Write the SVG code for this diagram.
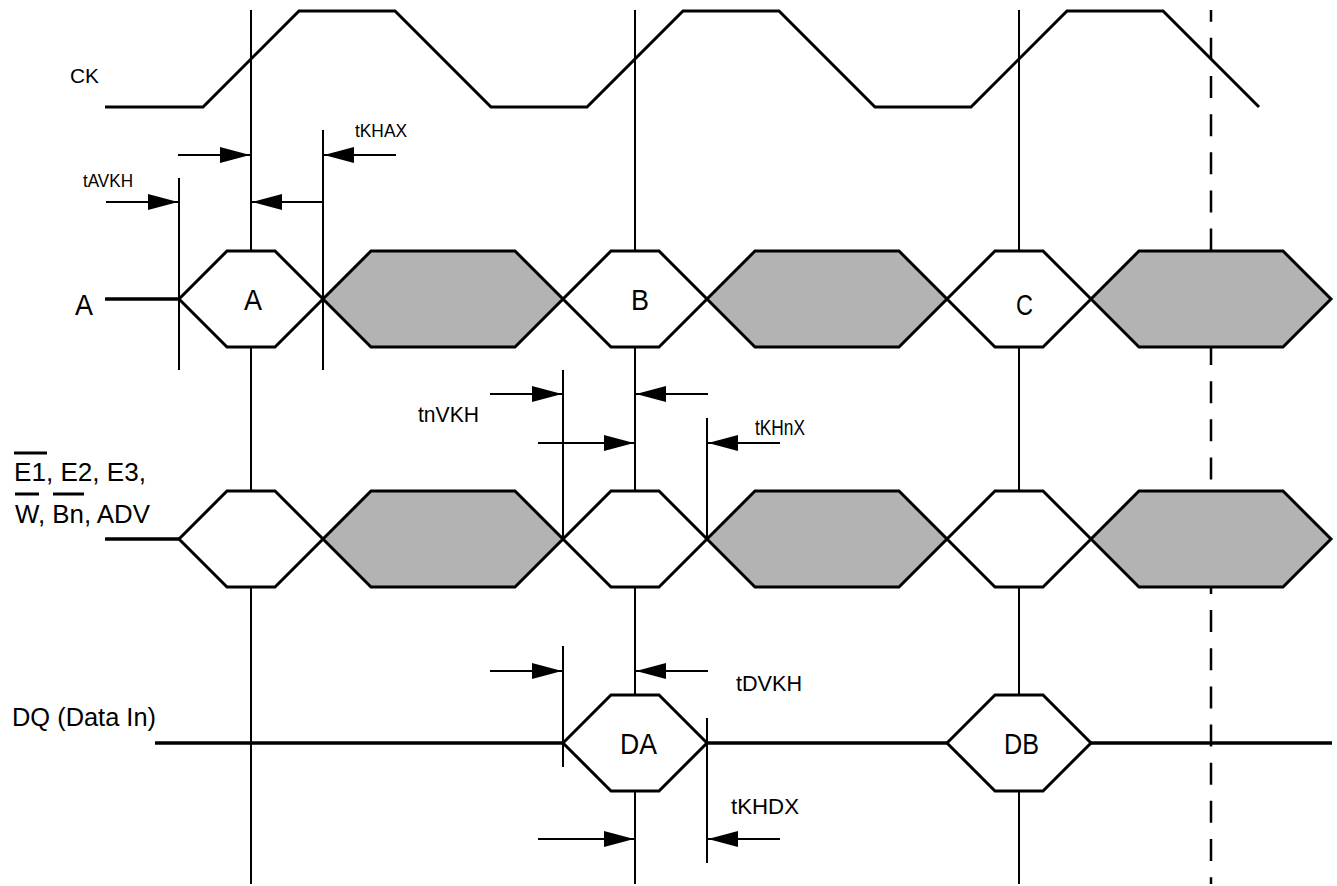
<svg xmlns="http://www.w3.org/2000/svg" width="1337" height="886" viewBox="0 0 1337 886">
<style>
  .bg{fill:#ffffff}
  .sig{fill:none;stroke:#000;stroke-width:3;stroke-linejoin:miter}
  .lead{fill:none;stroke:#000;stroke-width:3.5}
  .vl{fill:none;stroke:#000;stroke-width:2}
  .dash{fill:none;stroke:#000;stroke-width:2.5;stroke-dasharray:22 16.15;stroke-dashoffset:10.3}
  .hw{fill:#ffffff;stroke:#000;stroke-width:3;stroke-linejoin:miter}
  .hg{fill:#b3b3b3;stroke:#000;stroke-width:3;stroke-linejoin:miter}
  .arr{fill:none;stroke:#000;stroke-width:2;marker-end:url(#ah)}
  .ov{stroke:#000;stroke-width:3}
  .t{font-family:"Liberation Sans",Arial,sans-serif;fill:#000}
</style>
<defs>
  <marker id="ah" markerUnits="userSpaceOnUse" markerWidth="30" markerHeight="16" refX="30" refY="8" orient="auto">
    <path d="M0,0 L30,8 L0,16 Z" fill="#000"/>
  </marker>
</defs>
<rect class="bg" x="0" y="0" width="1337" height="886"/>

<g id="gridlines">
  <line class="vl" x1="251" y1="10" x2="251" y2="884"/>
  <line class="vl" x1="635" y1="10" x2="635" y2="884"/>
  <line class="vl" x1="1019" y1="10" x2="1019" y2="884"/>
  <line class="dash" x1="1211" y1="10" x2="1211" y2="884"/>
  <line class="vl" x1="179" y1="178" x2="179" y2="370"/>
  <line class="vl" x1="323" y1="130" x2="323" y2="370"/>
  <line class="vl" x1="563" y1="370" x2="563" y2="539"/>
  <line class="vl" x1="707" y1="418" x2="707" y2="539"/>
  <line class="vl" x1="563" y1="646" x2="563" y2="767"/>
  <line class="vl" x1="707" y1="718" x2="707" y2="863"/>
</g>

<g id="ck">
  <path class="sig" d="M105,107 L203,107 L299,11 L395,11 L491,107 L587,107 L683,11 L779,11 L875,107 L971,107 L1067,11 L1163,11 L1259,107"/>
  <text class="t" x="70" y="83" font-size="21" textLength="29" lengthAdjust="spacingAndGlyphs">CK</text>
</g>

<g id="addr">
  <line class="lead" x1="105" y1="299" x2="179" y2="299"/>
  <polygon class="hw" points="179,299 227,251 275,251 323,299 275,347 227,347"/>
  <polygon class="hg" points="323,299 371,251 515,251 563,299 515,347 371,347"/>
  <polygon class="hw" points="563,299 611,251 659,251 707,299 659,347 611,347"/>
  <polygon class="hg" points="707,299 755,251 899,251 947,299 899,347 755,347"/>
  <polygon class="hw" points="947,299 995,251 1043,251 1091,299 1043,347 995,347"/>
  <polygon class="hg" points="1091,299 1139,251 1283,251 1331,299 1283,347 1139,347"/>
  <text class="t" x="75" y="315" font-size="30" textLength="18" lengthAdjust="spacingAndGlyphs">A</text>
  <text class="t" x="244" y="310" font-size="30" textLength="18" lengthAdjust="spacingAndGlyphs">A</text>
  <text class="t" x="631" y="310" font-size="30" textLength="18" lengthAdjust="spacingAndGlyphs">B</text>
  <text class="t" x="1016" y="315" font-size="30" textLength="17" lengthAdjust="spacingAndGlyphs">C</text>
</g>

<g id="ctrl">
  <line class="lead" x1="105" y1="539" x2="179" y2="539"/>
  <polygon class="hw" points="179,539 227,491 275,491 323,539 275,587 227,587"/>
  <polygon class="hg" points="323,539 371,491 515,491 563,539 515,587 371,587"/>
  <polygon class="hw" points="563,539 611,491 659,491 707,539 659,587 611,587"/>
  <polygon class="hg" points="707,539 755,491 899,491 947,539 899,587 755,587"/>
  <polygon class="hw" points="947,539 995,491 1043,491 1091,539 1043,587 995,587"/>
  <polygon class="hg" points="1091,539 1139,491 1283,491 1331,539 1283,587 1139,587"/>
  <text class="t" x="14" y="481" font-size="26" textLength="132" lengthAdjust="spacingAndGlyphs">E1, E2, E3,</text>
  <text class="t" x="15" y="523" font-size="26" textLength="135" lengthAdjust="spacingAndGlyphs">W, Bn, ADV</text>
  <line class="ov" x1="14" y1="453" x2="47" y2="453"/>
  <line class="ov" x1="15" y1="494" x2="39" y2="494"/>
  <line class="ov" x1="53" y1="494" x2="84" y2="494"/>
</g>

<g id="dq">
  <line class="lead" x1="155" y1="743" x2="563" y2="743"/>
  <line class="lead" x1="707" y1="743" x2="947" y2="743"/>
  <line class="lead" x1="1091" y1="743" x2="1332" y2="743"/>
  <polygon class="hw" points="563,743 611,695 659,695 707,743 659,791 611,791"/>
  <polygon class="hw" points="947,743 995,695 1043,695 1091,743 1043,791 995,791"/>
  <text class="t" x="12" y="726" font-size="26" textLength="144" lengthAdjust="spacingAndGlyphs">DQ (Data In)</text>
  <text class="t" x="620" y="754" font-size="30" textLength="37" lengthAdjust="spacingAndGlyphs">DA</text>
  <text class="t" x="1004" y="754" font-size="30" textLength="35" lengthAdjust="spacingAndGlyphs">DB</text>
</g>

<g id="connectors">
  <line class="arr" x1="106" y1="202" x2="178" y2="202"/>
  <line class="arr" x1="178" y1="155" x2="250" y2="155"/>
  <line class="arr" x1="396" y1="155" x2="324" y2="155"/>
  <line class="arr" x1="322" y1="202" x2="252" y2="202"/>
  <line class="arr" x1="490" y1="394" x2="562" y2="394"/>
  <line class="arr" x1="708" y1="394" x2="636" y2="394"/>
  <line class="arr" x1="538" y1="443" x2="634" y2="443"/>
  <line class="arr" x1="780" y1="443" x2="708" y2="443"/>
  <line class="arr" x1="490" y1="671" x2="562" y2="671"/>
  <line class="arr" x1="708" y1="671" x2="636" y2="671"/>
  <line class="arr" x1="538" y1="839" x2="634" y2="839"/>
  <line class="arr" x1="780" y1="839" x2="708" y2="839"/>
</g>

<g id="timing-labels">
  <text class="t" x="83" y="187" font-size="17.5" textLength="50" lengthAdjust="spacingAndGlyphs">tAVKH</text>
  <text class="t" x="355" y="137" font-size="17.5" textLength="52" lengthAdjust="spacingAndGlyphs">tKHAX</text>
  <text class="t" x="418" y="422" font-size="22" textLength="61" lengthAdjust="spacingAndGlyphs">tnVKH</text>
  <text class="t" x="755" y="435" font-size="22" textLength="50" lengthAdjust="spacingAndGlyphs">tKHnX</text>
  <text class="t" x="736" y="691" font-size="22" textLength="66" lengthAdjust="spacingAndGlyphs">tDVKH</text>
  <text class="t" x="731" y="814" font-size="22" textLength="68" lengthAdjust="spacingAndGlyphs">tKHDX</text>
</g>
</svg>
